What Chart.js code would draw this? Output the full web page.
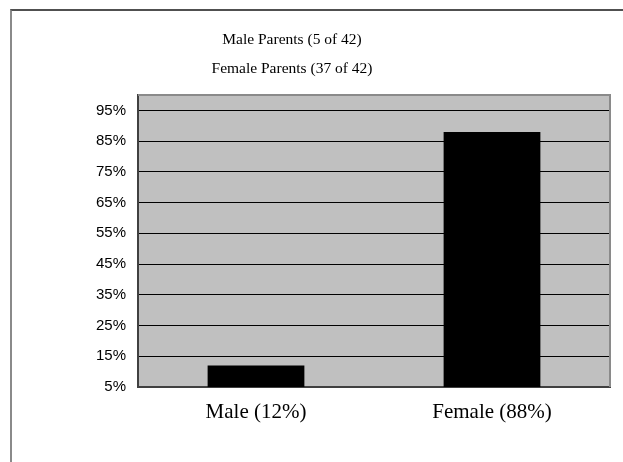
<!DOCTYPE html>
<html>
<head>
<meta charset="utf-8">
<script src="https://cdn.jsdelivr.net/npm/chart.js@4"></script>
<style>
  html, body { margin: 0; padding: 0; background: #fff; overflow: hidden; }
  #frame {
    position: absolute; left: 10px; top: 9px; width: 700px; height: 500px;
    border-top: 2px solid #505050; border-left: 2px solid #8a8a8a;
  }
  #wrap { position: absolute; left: 0; top: 0; width: 623px; height: 462px; }
</style>
</head>
<body>
<div id="frame"></div>
<div id="wrap"><canvas id="c" width="623" height="462"></canvas></div>
<script>
// Parent gender breakdown
const categories = ['Male (12%)', 'Female (88%)'];
const percentages = [12, 88];
const yTicks = [5, 15, 25, 35, 45, 55, 65, 75, 85, 95];
const titleLines = ['Male Parents (5 of 42)', 'Female Parents (37 of 42)'];

// Grey plot background and frame around the plotting area
const plotArea = {
  id: 'plotArea',
  beforeDraw(chart) {
    const a = chart.chartArea, ctx = chart.ctx;
    ctx.save();
    ctx.fillStyle = '#c0c0c0';
    ctx.fillRect(a.left, a.top, a.right - a.left, a.bottom - a.top);
    ctx.restore();
  },
  afterDraw(chart) {
    const a = chart.chartArea, ctx = chart.ctx;
    ctx.save();
    ctx.strokeStyle = '#8a8a8a';
    ctx.lineWidth = 2;
    ctx.beginPath();
    ctx.moveTo(a.left, a.top);
    ctx.lineTo(a.right, a.top);
    ctx.lineTo(a.right, a.bottom);
    ctx.stroke();
    ctx.restore();
  }
};

// Two-line heading above the plot
const heading = {
  id: 'heading',
  afterDraw(chart) {
    const ctx = chart.ctx;
    ctx.save();
    ctx.fillStyle = '#000';
    ctx.font = '15.5px "Liberation Serif", "Times New Roman", serif';
    ctx.textAlign = 'center';
    ctx.textBaseline = 'alphabetic';
    titleLines.forEach((t, i) => ctx.fillText(t, 292, 44 + i * 29));
    ctx.restore();
  }
};

new Chart(document.getElementById('c'), {
  type: 'bar',
  data: {
    labels: categories,
    datasets: [{
      data: percentages,
      backgroundColor: '#000',
      borderWidth: 0,
      barPercentage: 0.41,
      categoryPercentage: 1.0
    }]
  },
  options: {
    responsive: false,
    animation: false,
    devicePixelRatio: 1,
    layout: { padding: { top: 95, right: 13, left: 0, bottom: 0 } },
    plugins: { legend: { display: false }, tooltip: { enabled: false }, title: { display: false } },
    scales: {
      x: {
        grid: { display: false, drawTicks: false },
        border: { display: true, color: '#404040', width: 2 },
        ticks: {
          color: '#000',
          padding: 13,
          maxRotation: 0,
          font: { family: '"Liberation Serif", "Times New Roman", serif', size: 21 }
        },
        afterFit(scale) { scale.height = 75; }
      },
      y: {
        min: 5,
        max: 100,
        afterBuildTicks(scale) { scale.ticks = yTicks.map(v => ({ value: v })); },
        grid: { color: '#000', lineWidth: 1, drawTicks: false },
        border: { display: true, color: '#404040', width: 2 },
        ticks: {
          color: '#000',
          padding: 12,
          font: { family: '"Liberation Sans", Arial, sans-serif', size: 15 },
          callback: v => v + '%'
        },
        afterFit(scale) { scale.width = 138; }
      }
    }
  },
  plugins: [plotArea, heading]
});
</script>
</body>
</html>
